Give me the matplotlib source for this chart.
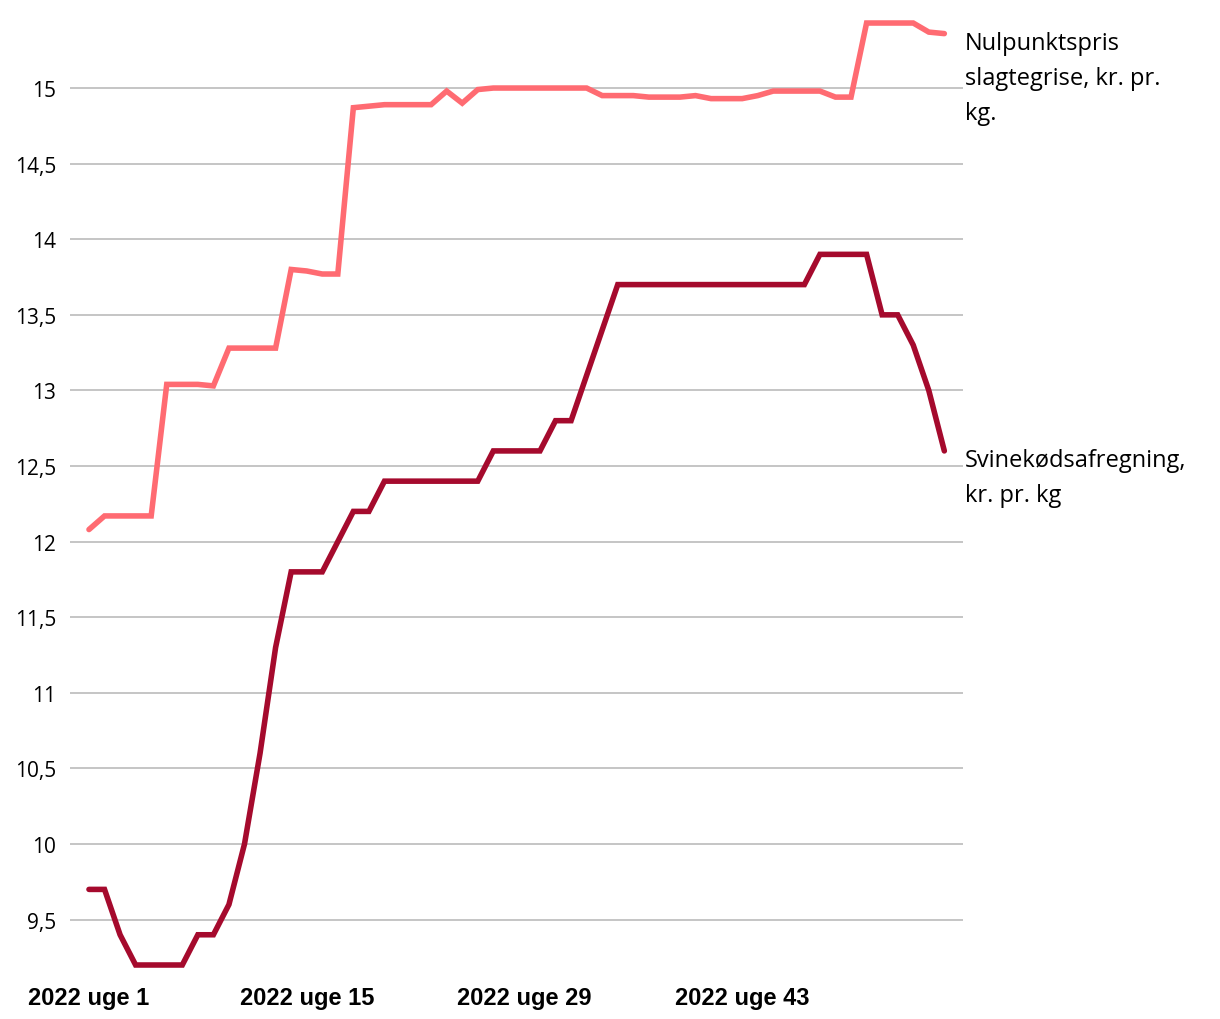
import numpy as np
import matplotlib.pyplot as plt

# weekly prices, kr. pr. kg (2022 uge 1 .. 56 weeks)
nulpunkt = [12.08, 12.17, 12.17, 12.17, 12.17, 13.04, 13.04, 13.04, 13.03, 13.28,
            13.28, 13.28, 13.28, 13.80, 13.79, 13.77, 13.77, 14.87, 14.88, 14.89,
            14.89, 14.89, 14.89, 14.98, 14.90, 14.99, 15.00, 15.00, 15.00, 15.00,
            15.00, 15.00, 15.00, 14.95, 14.95, 14.95, 14.94, 14.94, 14.94, 14.95,
            14.93, 14.93, 14.93, 14.95, 14.98, 14.98, 14.98, 14.98, 14.94, 14.94,
            15.43, 15.43, 15.43, 15.43, 15.37, 15.36]
svinekod = [9.7, 9.7, 9.4, 9.2, 9.2, 9.2, 9.2, 9.4, 9.4, 9.6,
            10.0, 10.6, 11.3, 11.8, 11.8, 11.8, 12.0, 12.2, 12.2, 12.4,
            12.4, 12.4, 12.4, 12.4, 12.4, 12.4, 12.6, 12.6, 12.6, 12.6,
            12.8, 12.8, 13.1, 13.4, 13.7, 13.7, 13.7, 13.7, 13.7, 13.7,
            13.7, 13.7, 13.7, 13.7, 13.7, 13.7, 13.7, 13.9, 13.9, 13.9,
            13.9, 13.5, 13.5, 13.3, 13.0, 12.6]
tick_pos = [0, 14, 28, 42]
tick_labels = ["2022 uge 1", "2022 uge 15", "2022 uge 29", "2022 uge 43"]
yticks = [9.5, 10, 10.5, 11, 11.5, 12, 12.5, 13, 13.5, 14, 14.5, 15]

x = np.arange(len(nulpunkt))

fig = plt.figure(figsize=(12.2, 10.2), dpi=100)
ax = fig.add_axes([70/1220, 54/1020, 893/1220, 945/1020])

ax.plot(x, nulpunkt, color='#ff6b72', lw=4, solid_joinstyle='miter',
        solid_capstyle='round', clip_on=False, zorder=3)
ax.plot(x, svinekod, color='#a50a2d', lw=4, solid_joinstyle='miter',
        solid_capstyle='round', clip_on=False, zorder=3)

ax.set_xlim(-1.22, 56.2)
ax.set_ylim(9.2, 15.45)
ax.set_yticks(yticks)
ax.set_yticklabels([f"{v:g}".replace('.', ',') for v in yticks], family='Open Sans', fontsize=15)
ax.set_xticks(tick_pos)
ax.set_xticklabels(tick_labels, family='Liberation Sans', fontweight='bold', fontsize=17)
ax.tick_params(axis='y', length=0, pad=10)
ax.tick_params(axis='x', length=0, pad=15)
ax.grid(axis='y', color='#c0c0c0', lw=1.3)
ax.set_axisbelow(True)
for s in ax.spines.values():
    s.set_visible(False)

fig.text(965/1220, 1 - 32/1020, "Nulpunktspris\nslagtegrise, kr. pr.\nkg.",
         family='Open Sans', fontsize=17, va='top', ha='left', linespacing=1.6)
fig.text(965/1220, 1 - 449/1020, "Svinekødsafregning,\nkr. pr. kg",
         family='Open Sans', fontsize=17, va='top', ha='left', linespacing=1.6)

fig.savefig("out.png", dpi=100)
